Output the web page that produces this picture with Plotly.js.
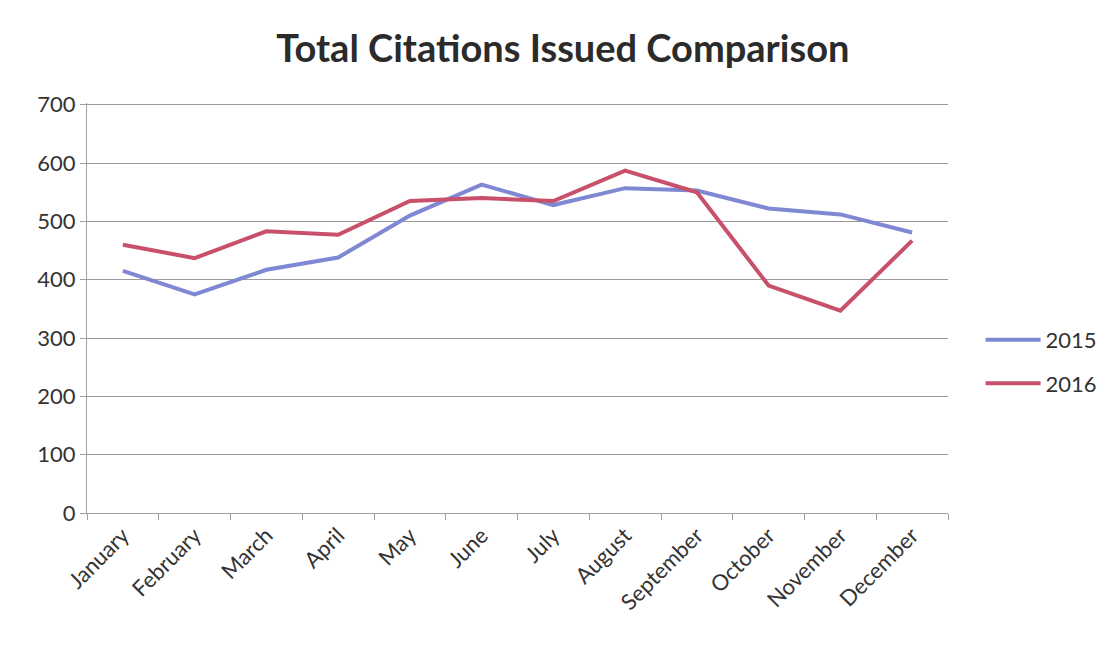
<!DOCTYPE html>
<html>
<head>
<meta charset="utf-8">
<script src="https://cdn.plot.ly/plotly-3.0.1.min.js"></script>
<style>html,body{margin:0;padding:0;background:#fff;}#chart{width:1108px;height:645px;}</style>
</head>
<body>
<div id="chart"></div>
<script>
const months = ["January","February","March","April","May","June","July","August","September","October","November","December"];
const series2015 = [415, 375, 417, 438, 510, 563, 528, 557, 553, 522, 512, 481];
const series2016 = [460, 437, 483, 477, 535, 540, 535, 587, 550, 390, 347, 467];
const yTicks = [0, 100, 200, 300, 400, 500, 600, 700];

const FONT = "Lato, 'Open Sans', sans-serif";
const traces = [
  {x: months, y: series2015, name: "2015", legendgroup: "a", type: "scatter", mode: "lines",
   line: {color: "#7f88d2", width: 4}},
  {x: months, y: series2016, name: "2016", legendgroup: "b", type: "scatter", mode: "lines",
   line: {color: "#c8506a", width: 4}}
];
const layout = {
  width: 1108, height: 645,
  paper_bgcolor: "#ffffff", plot_bgcolor: "#ffffff",
  margin: {l: 87, r: 160, t: 103, b: 132},
  title: {text: "<b>Total Citations Issued Comparison</b>", x: 0.508, xanchor: "center", y: 0.925, yanchor: "middle",
          font: {family: FONT, size: 38, color: "#2b2b2b"}},
  font: {family: FONT, color: "#333333"},
  xaxis: {type: "category", tickangle: -45, tickfont: {size: 22, color: "#333333"},
          showgrid: false, showline: true, linecolor: "#a0a0a0", linewidth: 1,
          ticks: "outside", ticklen: 6, tickcolor: "#a0a0a0", tickson: "boundaries",
          range: [-0.5, 11.5], automargin: false},
  yaxis: {range: [0, 703], tickvals: yTicks, ticktext: yTicks.map(String),
          tickfont: {size: 22, color: "#333333"}, showgrid: true, gridcolor: "#9a9a9a", gridwidth: 1,
          showline: true, linecolor: "#a0a0a0", ticks: "outside", ticklen: 6, tickcolor: "#a0a0a0",
          zeroline: false, automargin: false},
  showlegend: true,
  legend: {xref: "container", yref: "container", x: 0.885, xanchor: "left", y: 0.439, yanchor: "middle",
           font: {size: 22, color: "#333333"},
           itemwidth: 55, tracegroupgap: 12, bgcolor: "rgba(0,0,0,0)"}
};
Plotly.newPlot("chart", traces, layout, {displayModeBar: false, staticPlot: true});
</script>
</body>
</html>
